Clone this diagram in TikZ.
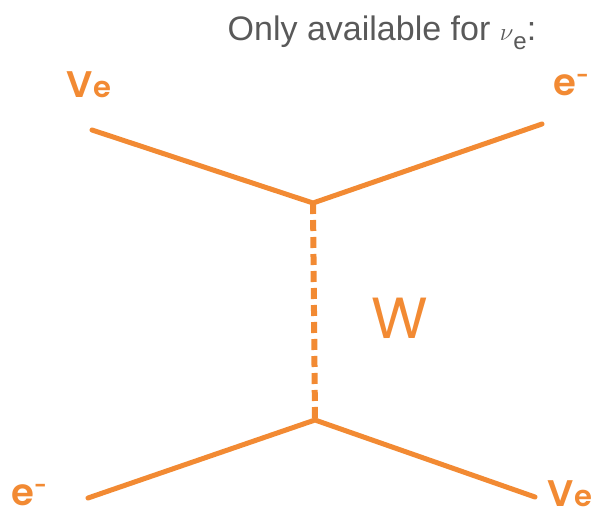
\documentclass[tikz,border=0pt]{standalone}
\usepackage{fontspec}
\setmainfont{Liberation Sans}
\newfontfamily\labelfont{Poppins}[UprightFont={* Medium},BoldFont={* SemiBold}]
\newfontfamily\wfont{Poppins}
\usetikzlibrary{positioning}
\definecolor{fermion}{HTML}{F28A33}
\definecolor{titlegray}{HTML}{595959}
\tikzset{
  leg/.style={draw=fermion,line width=5pt},
  boson/.style={draw=fermion,line width=6pt,dash pattern=on 11pt off 6pt},
  partlabel/.style={text=fermion,inner sep=0pt,text depth=0pt,font=\labelfont\fontsize{37}{37}\selectfont},
  bosonlabel/.style={text=fermion,inner sep=0pt,font=\wfont\fontsize{58}{58}\selectfont}
}
\newcommand{\nulabel}{\bfseries V\kern1pt{\fontsize{29}{29}\selectfont e}}
\newcommand{\elabel}{\bfseries e\raisebox{12pt}{\fontsize{22}{22}\selectfont -}}
\begin{document}
\begin{tikzpicture}[x=1pt,y=-1pt]
  \useasboundingbox (0,0) rectangle (602,519);
  % title
  \node[text=titlegray,font=\fontsize{34}{34}\selectfont,anchor=base] (title) at (382,41)
    {Only available for $\nu$\raisebox{-9pt}{\fontsize{24}{24}\selectfont e}:};
  % vertices and free ends
  \coordinate (vtop) at (313,203);
  \coordinate (vbot) at (315,420);
  \coordinate (inl) at (92,130);
  \coordinate (outr) at (542,124);
  \coordinate (inbl) at (88,498);
  \coordinate (outbr) at (535,497);
  % legs
  \draw[leg,line cap=round] (inl) -- (vtop) -- (outr);
  \draw[leg,line cap=round] (inbl) -- (vbot) -- (outbr);
  \draw[boson] (vtop) -- (vbot);
  % labels
  \node[partlabel,anchor=base west] (nuin) at (66,97) {\nulabel};
  \node[partlabel,anchor=base west] (eout) at (553,95) {\elabel};
  \node[partlabel,anchor=base west] (ein) at (11,505) {\elabel};
  \node[partlabel,anchor=base west] (nuout) at (547,506) {\nulabel};
  \node[bosonlabel,anchor=base west] (wlabel) at (371,338) {W};
\end{tikzpicture}
\end{document}
